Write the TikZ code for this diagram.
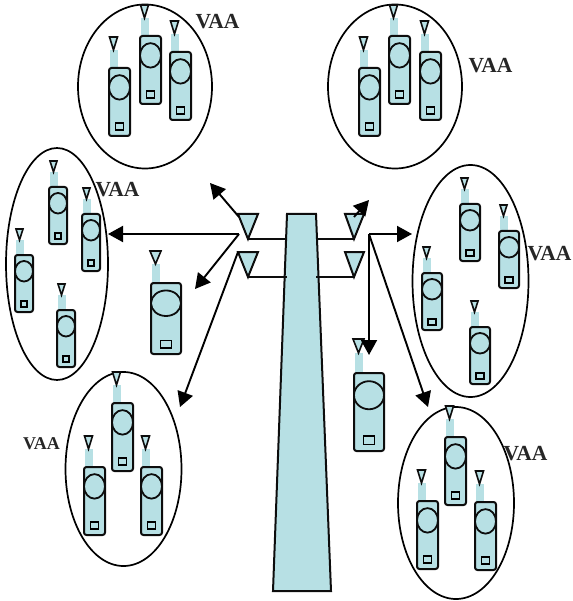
\documentclass[tikz,border=0pt]{standalone}
\usepackage{fontspec}
\setmainfont{Liberation Serif}
\usetikzlibrary{arrows.meta}
\definecolor{phonefill}{HTML}{B7E0E4}
\tikzset{
  shell/.style={draw=black!95,line width=2pt,fill=phonefill},
  bodyshape/.style={shell,rounded corners=2.5pt},
  feed/.style={draw=black!95,line width=1.9pt},
  beam/.style={draw=black,line width=1.9pt,-{Triangle[length=15pt,width=16pt]}},
  vaa/.style={font=\bfseries\fontsize{21.5}{24}\selectfont,text=black!85,inner sep=0pt},
  vaasmall/.style={font=\bfseries\fontsize{18}{20}\selectfont,text=black!85,inner sep=0pt},
}
% \phonedraw{x}{y}{w}{h}{antenna height}{tri width}{tri height}
\newcommand{\phonedraw}[7]{%
  \begin{scope}[shift={(#1,#2)}]
    \fill[phonefill] (0.5,0) rectangle (8.5,-#5);
    \path[shell,line width=1.6pt] (4.5-#6/2,-#5-#7) -- (4.5+#6/2,-#5-#7) -- (4.5,-#5) -- cycle;
    \path[bodyshape] (0,0) rectangle (#3,#4);
    \path[shell,line width=1.8pt] (#3/2,0.285*#4) ellipse [x radius=#3/2,y radius=0.18*#4];
    \path[draw=black,line width=1.7pt,fill=phonefill] (#3/2-0.185*#3,0.81*#4) rectangle (#3/2+0.185*#3,0.915*#4);
  \end{scope}}
\newcommand{\phoneA}[2]{\phonedraw{#1}{#2}{21}{68}{18}{8}{13}}
\newcommand{\phoneB}[2]{\phonedraw{#1}{#2}{18}{57}{15}{7}{11}}
\newcommand{\phoneC}[2]{\phonedraw{#1}{#2}{30}{71}{19}{11}{13}}
\newcommand{\phoneD}[2]{\phonedraw{#1}{#2}{30}{78}{20}{11}{14}}
\newcommand{\phoneE}[2]{\phonedraw{#1}{#2}{20}{57}{15}{7}{11}}
\begin{document}
\begin{tikzpicture}[x=1pt,y=-1pt]
\useasboundingbox (0,0) rectangle (572,601);
% clusters
\path[draw=black,line width=1.7pt]
  (145,86.5) ellipse [x radius=67,y radius=82]
  (395,86.5) ellipse [x radius=67,y radius=82]
  (57,264) ellipse [x radius=51,y radius=116]
  (470.5,281) ellipse [x radius=58,y radius=116]
  (123.5,469) ellipse [x radius=58,y radius=97]
  (456,503) ellipse [x radius=58,y radius=96];
% phones
\phoneA{109}{68}\phoneA{140}{36}\phoneA{170}{52}
\phoneA{359}{68}\phoneA{389}{36}\phoneA{420}{52}
\phoneB{49}{187}\phoneB{82}{214}\phoneB{15}{255}\phoneB{57}{310}
\phoneC{151}{283}
\phoneD{354}{373}
\phoneE{460}{204}\phoneE{499}{231}\phoneE{422}{273}\phoneE{470}{327}
\phoneA{112}{403}\phoneA{84}{467}\phoneA{141}{467}
\phoneA{445}{437}\phoneA{417}{501}\phoneA{475}{502}
% tower
\path[shell] (287,214) -- (316,214) -- (331,591) -- (273,591) -- cycle;
% base antennas
\coordinate (tl) at (248,239);
\coordinate (bl) at (248,277);
\coordinate (tr) at (354,239);
\coordinate (br) at (354,277);
\coordinate (mtl) at (287,239);
\coordinate (mbl) at (287,277);
\coordinate (mtr) at (316,239);
\coordinate (mbr) at (316,277);
\draw[feed] (tl) -- (mtl);
\draw[feed] (bl) -- (mbl);
\draw[feed] (mtr) -- (tr);
\draw[feed] (mbr) -- (br);
\path[shell] (238,214) -- (258,214) -- (tl) -- cycle;
\path[shell] (238,252) -- (258,252) -- (bl) -- cycle;
\path[shell] (345,214) -- (364,214) -- (tr) -- cycle;
\path[shell] (345,252) -- (364,252) -- (br) -- cycle;
% beams
\coordinate (sa) at (239,217);
\coordinate (sb) at (239,234);
\coordinate (sc) at (238,252);
\coordinate (sd) at (354,217);
\coordinate (se) at (369,234);
\coordinate (ea) at (210,183);
\coordinate (eb) at (108,234);
\coordinate (ec) at (195,289);
\coordinate (ed) at (180,407);
\coordinate (ee) at (369,200);
\coordinate (ef) at (412,234);
\coordinate (eg) at (369,355);
\coordinate (eh) at (428,407);
\draw[beam] (sa) -- (ea);
\draw[beam] (sb) -- (eb);
\draw[beam] (sb) -- (ec);
\draw[beam] (sc) -- (ed);
\draw[beam] (sd) -- (ee);
\draw[beam] (se) -- (ef);
\draw[beam] (se) -- (eg);
\draw[beam] (se) -- (eh);
% labels
\node[vaa] (v1) at (217.5,22) {VAA};
\node[vaa] (v2) at (490.5,66) {VAA};
\node[vaa] (v3) at (117.5,190) {VAA};
\node[vaa] (v4) at (549.5,254) {VAA};
\node[vaa] (v5) at (525.5,454) {VAA};
\node[vaasmall] (v6) at (41.5,444) {VAA};
\end{tikzpicture}
\end{document}
